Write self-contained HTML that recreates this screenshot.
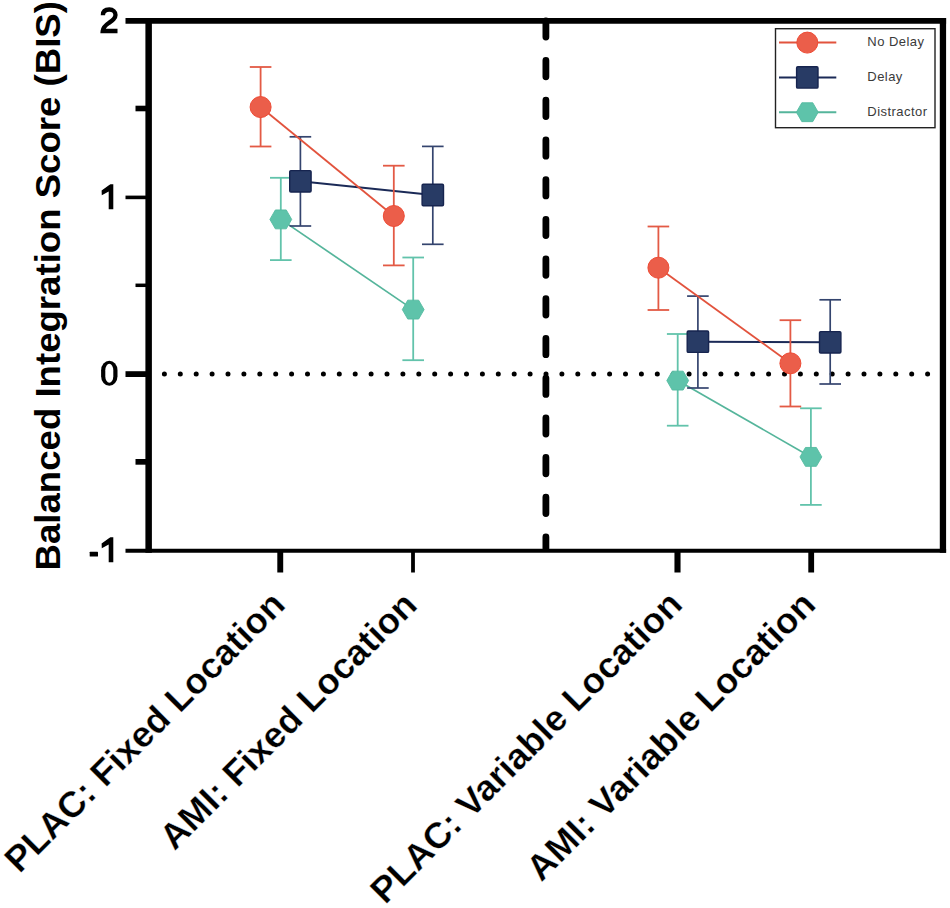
<!DOCTYPE html>
<html><head><meta charset="utf-8"><style>
html,body{margin:0;padding:0;background:#fff;width:950px;height:908px;overflow:hidden}
svg{display:block}
text{font-family:"Liberation Sans",sans-serif}
</style></head><body>
<svg width="950" height="908" viewBox="0 0 950 908">
<rect width="950" height="908" fill="#fff"/>
<line x1="164.4" y1="374" x2="935" y2="374" stroke="#000" stroke-width="5" stroke-linecap="round" stroke-dasharray="0 15.9"/>
<g stroke="#55B59B" stroke-width="1.7" fill="none">
<line x1="280.8" y1="219.4" x2="413.2" y2="309.6"/>
<line x1="677.7" y1="380.6" x2="810.9" y2="456.9"/>
</g>
<g stroke="#62C3AB" stroke-width="1.8" fill="none">
<line x1="280.8" y1="177.8" x2="280.8" y2="260.1"/>
<line x1="270.0" y1="177.8" x2="291.6" y2="177.8"/>
<line x1="270.0" y1="260.1" x2="291.6" y2="260.1"/>
<line x1="413.2" y1="257.5" x2="413.2" y2="360.2"/>
<line x1="402.4" y1="257.5" x2="424.0" y2="257.5"/>
<line x1="402.4" y1="360.2" x2="424.0" y2="360.2"/>
<line x1="677.7" y1="334" x2="677.7" y2="425.7"/>
<line x1="666.9" y1="334" x2="688.5" y2="334"/>
<line x1="666.9" y1="425.7" x2="688.5" y2="425.7"/>
<line x1="810.9" y1="408.3" x2="810.9" y2="504.9"/>
<line x1="800.1" y1="408.3" x2="821.7" y2="408.3"/>
<line x1="800.1" y1="504.9" x2="821.7" y2="504.9"/>
</g>
<polygon points="291.70,219.40 286.25,228.84 275.35,228.84 269.90,219.40 275.35,209.96 286.25,209.96" fill="#5EC3AA" stroke="#55BBA0" stroke-width="0.9" stroke-linejoin="round"/>
<polygon points="424.10,309.60 418.65,319.04 407.75,319.04 402.30,309.60 407.75,300.16 418.65,300.16" fill="#5EC3AA" stroke="#55BBA0" stroke-width="0.9" stroke-linejoin="round"/>
<polygon points="688.60,380.60 683.15,390.04 672.25,390.04 666.80,380.60 672.25,371.16 683.15,371.16" fill="#5EC3AA" stroke="#55BBA0" stroke-width="0.9" stroke-linejoin="round"/>
<polygon points="821.80,456.90 816.35,466.34 805.45,466.34 800.00,456.90 805.45,447.46 816.35,447.46" fill="#5EC3AA" stroke="#55BBA0" stroke-width="0.9" stroke-linejoin="round"/>
<g stroke="#1B2A57" stroke-width="1.9" fill="none">
<line x1="300.4" y1="181.3" x2="432.8" y2="195.0"/>
<line x1="697.9" y1="341.7" x2="830.2" y2="342.3"/>
</g>
<g stroke="#34446E" stroke-width="1.7" fill="none">
<line x1="300.4" y1="136.8" x2="300.4" y2="226"/>
<line x1="289.6" y1="136.8" x2="311.2" y2="136.8"/>
<line x1="289.6" y1="226" x2="311.2" y2="226"/>
<line x1="432.8" y1="146.4" x2="432.8" y2="244.3"/>
<line x1="422.0" y1="146.4" x2="443.6" y2="146.4"/>
<line x1="422.0" y1="244.3" x2="443.6" y2="244.3"/>
<line x1="697.9" y1="296.1" x2="697.9" y2="388"/>
<line x1="687.1" y1="296.1" x2="708.7" y2="296.1"/>
<line x1="687.1" y1="388" x2="708.7" y2="388"/>
<line x1="830.2" y1="299.8" x2="830.2" y2="384"/>
<line x1="819.4" y1="299.8" x2="841.0" y2="299.8"/>
<line x1="819.4" y1="384" x2="841.0" y2="384"/>
</g>
<rect x="289.70" y="170.60" width="21.40" height="21.40" rx="1.2" fill="#283B65" stroke="#16244F" stroke-width="1.4"/>
<rect x="422.10" y="184.30" width="21.40" height="21.40" rx="1.2" fill="#283B65" stroke="#16244F" stroke-width="1.4"/>
<rect x="687.20" y="331.00" width="21.40" height="21.40" rx="1.2" fill="#283B65" stroke="#16244F" stroke-width="1.4"/>
<rect x="819.50" y="331.60" width="21.40" height="21.40" rx="1.2" fill="#283B65" stroke="#16244F" stroke-width="1.4"/>
<g stroke="#E2533D" stroke-width="1.8" fill="none">
<line x1="260.6" y1="107.05" x2="393.8" y2="216"/>
<line x1="658.4" y1="267.7" x2="790.4" y2="363.3"/>
</g>
<g stroke="#E35A45" stroke-width="1.8" fill="none">
<line x1="260.6" y1="67" x2="260.6" y2="146.5"/>
<line x1="249.8" y1="67" x2="271.4" y2="67"/>
<line x1="249.8" y1="146.5" x2="271.4" y2="146.5"/>
<line x1="393.8" y1="165.7" x2="393.8" y2="265.4"/>
<line x1="383.0" y1="165.7" x2="404.6" y2="165.7"/>
<line x1="383.0" y1="265.4" x2="404.6" y2="265.4"/>
<line x1="658.4" y1="226.5" x2="658.4" y2="310"/>
<line x1="647.6" y1="226.5" x2="669.2" y2="226.5"/>
<line x1="647.6" y1="310" x2="669.2" y2="310"/>
<line x1="790.4" y1="320.2" x2="790.4" y2="406.5"/>
<line x1="779.6" y1="320.2" x2="801.2" y2="320.2"/>
<line x1="779.6" y1="406.5" x2="801.2" y2="406.5"/>
</g>
<circle cx="260.6" cy="107.05" r="10.5" fill="#EB5E4A" stroke="#EE4B35" stroke-width="1"/>
<circle cx="393.8" cy="216" r="10.5" fill="#EB5E4A" stroke="#EE4B35" stroke-width="1"/>
<circle cx="658.4" cy="267.7" r="10.5" fill="#EB5E4A" stroke="#EE4B35" stroke-width="1"/>
<circle cx="790.4" cy="363.3" r="10.5" fill="#EB5E4A" stroke="#EE4B35" stroke-width="1"/>
<g stroke="#000" fill="none">
<line x1="125.5" y1="20.85" x2="946.1" y2="20.85" stroke-width="5.9"/>
<line x1="148.65" y1="17.9" x2="148.65" y2="552.7" stroke-width="6.5"/>
<line x1="942.95" y1="17.9" x2="942.95" y2="552.7" stroke-width="6.3"/>
<line x1="125.5" y1="550.7" x2="946.1" y2="550.7" stroke-width="4"/>
<line x1="125.5" y1="197.4" x2="148" y2="197.4" stroke-width="3.6"/>
<line x1="125.5" y1="374.1" x2="148" y2="374.1" stroke-width="5.8"/>
<line x1="135.5" y1="108.5" x2="148" y2="108.5" stroke-width="5.6"/>
<line x1="135.5" y1="285.3" x2="148" y2="285.3" stroke-width="3.5"/>
<line x1="135.5" y1="461.85" x2="148" y2="461.85" stroke-width="5.7"/>
<line x1="280.25" y1="550" x2="280.25" y2="572.5" stroke-width="5.9"/>
<line x1="413" y1="550" x2="413" y2="572.5" stroke-width="3.8"/>
<line x1="677.5" y1="550" x2="677.5" y2="572.5" stroke-width="6.1"/>
<line x1="811.2" y1="550" x2="811.2" y2="572.5" stroke-width="5.8"/>
<line x1="545.9" y1="20.8" x2="545.9" y2="548.5" stroke-width="6.8" stroke-linecap="round" stroke-dasharray="16.3 23.4"/>
</g>
<rect x="775.5" y="28.7" width="159.5" height="99" fill="#fff" stroke="#222" stroke-width="1.4"/>
<line x1="779" y1="42.6" x2="836.3" y2="42.6" stroke="#E2533D" stroke-width="2"/>
<circle cx="807.3" cy="42.6" r="10.5" fill="#EB5E4A" stroke="#EE4B35" stroke-width="1"/>
<text x="867.3" y="46.4" font-size="13" letter-spacing="0.45" fill="#3a3a3a">No Delay</text>
<line x1="779" y1="77.4" x2="836.3" y2="77.4" stroke="#1B2A57" stroke-width="2"/>
<rect x="796.60" y="66.70" width="21.40" height="21.40" rx="1.2" fill="#283B65" stroke="#16244F" stroke-width="1.4"/>
<text x="867.3" y="81.2" font-size="13" letter-spacing="0.45" fill="#3a3a3a">Delay</text>
<line x1="779" y1="112.2" x2="836.3" y2="112.2" stroke="#55B59B" stroke-width="2"/>
<polygon points="818.20,112.20 812.75,121.64 801.85,121.64 796.40,112.20 801.85,102.76 812.75,102.76" fill="#5EC3AA" stroke="#55BBA0" stroke-width="0.9" stroke-linejoin="round"/>
<text x="867.3" y="116.0" font-size="13" letter-spacing="0.45" fill="#3a3a3a">Distractor</text>
<g font-weight="bold" fill="#000" text-anchor="middle" font-size="36">
</g>
<g fill="#000">
<path d="M113.3 184.2 L113.3 209.3 L108.7 209.3 L108.7 191.6 L101.8 195.3 L101.6 190.5 L108.9 185.2 L110.4 184.2 Z"/>
<path d="M113.3 537.2 L113.3 562.3 L108.7 562.3 L108.7 544.6 L101.8 548.3 L101.6 543.5 L108.9 538.2 L110.4 537.2 Z"/>
<path d="M102.9 15.2 C102.9 11.2 105.6 9.5 109.3 9.5 C113.0 9.5 115.5 11.8 115.5 15.0 C115.5 18.6 112.4 20.6 108.8 23.0 C105.2 25.4 103.0 27.6 102.7 31.0 L117.5 31.0" fill="none" stroke="#000" stroke-width="4.3"/>
<rect x="89.7" y="551.7" width="8.3" height="4.9" rx="0.6"/>
<rect x="101.1" y="360.7" width="16.4" height="25.1" rx="8.2" ry="9.6"/>
<rect x="105.3" y="363.8" width="8" height="18.9" rx="4" ry="6.5" fill="#fff"/>
</g>
<text transform="translate(59.5 570.5) rotate(-90) scale(1.017 1)" font-size="36" font-weight="bold" fill="#000">Balanced Integration Score (BIS)</text>
<g font-size="36" font-weight="bold" fill="#000" stroke="#fff" stroke-width="0.3">
<text transform="translate(19.44 874.16) rotate(-45) scale(1.012 1)">PLAC: Fixed Location</text>
<text transform="translate(174.46 851.54) rotate(-45) scale(1.012 1)">AMI: Fixed Location</text>
<text transform="translate(385.16 905.34) rotate(-45) scale(1.012 1)">PLAC: Variable Location</text>
<text transform="translate(541.29 882.71) rotate(-45) scale(1.012 1)">AMI: Variable Location</text>
</g>
</svg>
</body></html>
